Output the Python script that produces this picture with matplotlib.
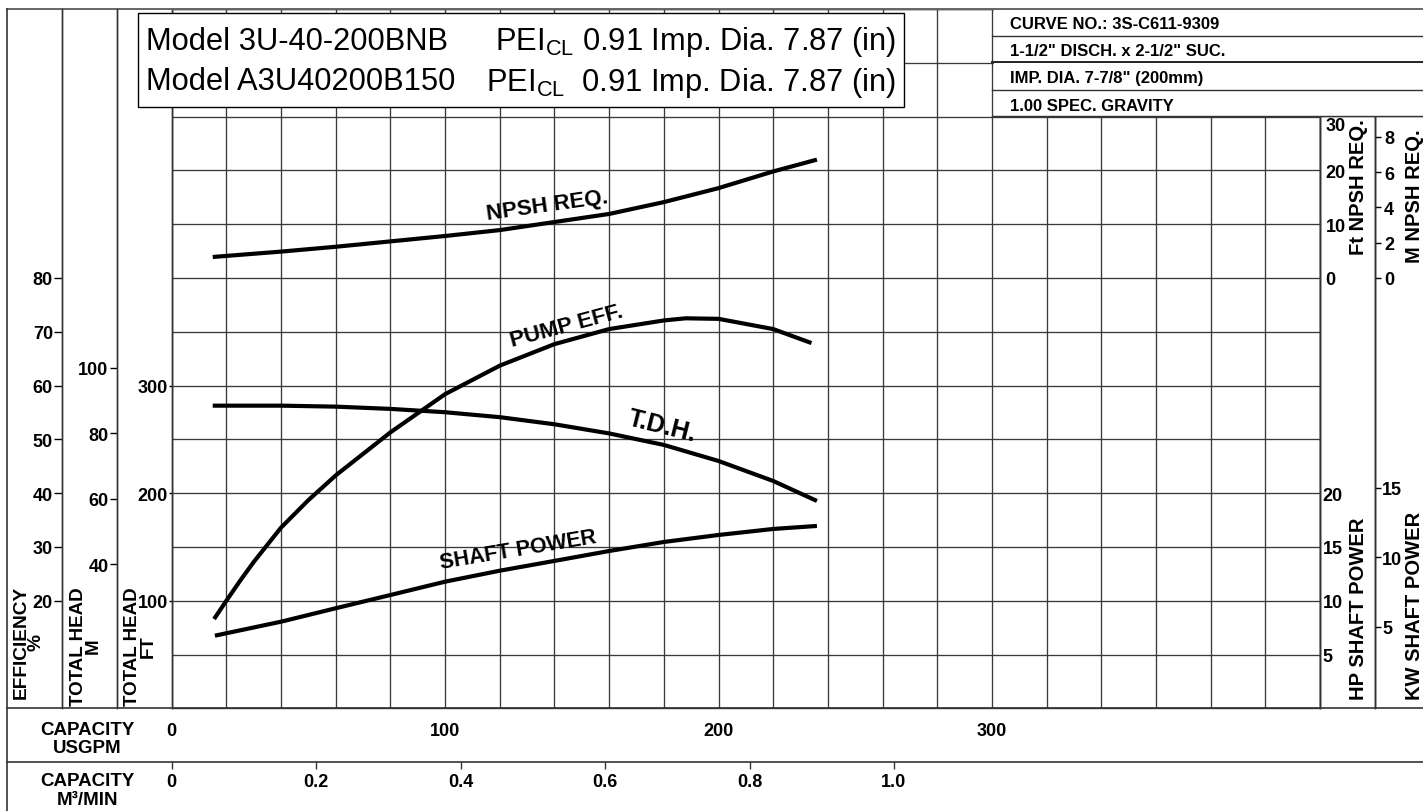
import matplotlib
matplotlib.use('Agg')
import matplotlib.pyplot as plt
from matplotlib.lines import Line2D
from matplotlib.patches import Rectangle
import numpy as np

plt.rcParams['font.family'] = ['Liberation Sans', 'DejaVu Sans']
plt.rcParams['mathtext.fontset'] = 'custom'
plt.rcParams['mathtext.rm'] = 'Liberation Sans'
plt.rcParams['mathtext.it'] = 'Liberation Sans:italic'
plt.rcParams['mathtext.bf'] = 'Liberation Sans:bold'

# ---------------- data ----------------
npsh_flow = [15, 40, 60, 80, 100, 120, 140, 160, 180, 200, 220, 236]
npsh_ft = [3.9, 4.9, 5.8, 6.8, 7.8, 8.9, 10.4, 11.9, 14.1, 16.7, 19.8, 22.0]

eff_flow = [15.5, 20, 25, 30, 40, 50, 60, 80, 100, 120, 140, 160, 180, 188, 200, 220, 234]
eff_pct = [16.6, 20.0, 23.7, 27.2, 33.6, 38.7, 43.3, 51.3, 58.4, 63.7, 67.7, 70.5, 72.1, 72.5, 72.4, 70.5, 67.9]

tdh_flow = [15, 40, 60, 80, 100, 120, 140, 160, 180, 200, 220, 236]
tdh_ft = [281.3, 281.3, 280.4, 278.3, 275.2, 270.6, 264.0, 255.5, 244.8, 229.9, 211.3, 192.7]

hp_flow = [15.8, 40, 60, 80, 100, 120, 140, 160, 180, 200, 220, 236]
shaft_hp = [6.75, 8.05, 9.3, 10.53, 11.77, 12.79, 13.7, 14.62, 15.46, 16.11, 16.67, 16.95]

gpm_ticks = [0, 100, 200, 300]
m3_ticks = [0, 0.2, 0.4, 0.6, 0.8, 1.0]
m3_labels = ['0', '0.2', '0.4', '0.6', '0.8', '1.0']
eff_ticks = [20, 30, 40, 50, 60, 70, 80]
headm_ticks = [40, 60, 80, 100]
headft_ticks = [100, 200, 300]
npshft_ticks = [0, 10, 20, 30]
npshm_ticks = [0, 2, 4, 6, 8]
hp_ticks = [5, 10, 15, 20]
kw_ticks = [5, 10, 15]

title_left = ["Model 3U-40-200BNB", "Model A3U40200B150"]
title_right = [r"PEI$_{\mathrm{CL}}$ 0.91 Imp. Dia. 7.87 (in)",
               r"PEI$_{\mathrm{CL}}$  0.91 Imp. Dia. 7.87 (in)"]
info_lines = ['CURVE NO.: 3S-C611-9309', '1-1/2" DISCH. x 2-1/2" SUC.',
              'IMP. DIA. 7-7/8" (200mm)', '1.00 SPEC. GRAVITY']

GPM_TO_M3MIN = 0.003785411784

# ---------------- layout ----------------
W, H = 1423, 812
fig = plt.figure(figsize=(W / 100, H / 100), dpi=100)


def fx(x):
    return x / W


def fy(y):
    return 1 - y / H


def hline(y, x0, x1, lw=1.0, color='#333333', z=5):
    fig.add_artist(Line2D([fx(x0), fx(x1)], [fy(y), fy(y)], transform=fig.transFigure,
                          lw=lw, color=color, zorder=z))


def vline(x, y0, y1, lw=1.0, color='#333333', z=5):
    fig.add_artist(Line2D([fx(x), fx(x)], [fy(y0), fy(y1)], transform=fig.transFigure,
                          lw=lw, color=color, zorder=z))


X0, X1 = 171.7, 1320.0
YB, YT = 709.3, 10.0
ax = fig.add_axes([fx(X0), fy(YB), (X1 - X0) / W, (YB - YT) / H])
ax.set_xlim(0, 420)
ax.set_ylim(0, 130)
ax.set_xticks(gpm_ticks)
ax.set_xticklabels([str(t) for t in gpm_ticks], fontsize=13, fontweight='bold')
ax.set_xticks(np.arange(0, 421, 20), minor=True)
ax.set_yticks(np.arange(0, 131, 10))
ax.tick_params(axis='x', which='both', length=0, pad=10)
ax.tick_params(axis='y', which='both', length=0, labelleft=False)
ax.grid(True, which='both', color='#3a3a3a', lw=0.95)
for s in ax.spines.values():
    s.set_color('#333333')
    s.set_linewidth(1.0)
ax.set_axisbelow(True)


def frac_x(px):
    return (px - X0) / (X1 - X0)


def side_axis(ylim, side, pos, ticks, labels, length, pad, direction='out'):
    a = ax.twinx()
    a.set_ylim(*ylim)
    for s in a.spines.values():
        s.set_visible(False)
    a.yaxis.set_ticks_position(side)
    a.spines[side].set_position(('axes', pos))
    a.spines[side].set_visible(True)
    a.spines[side].set_color('#333333')
    a.spines[side].set_linewidth(1.0)
    a.set_yticks(ticks)
    a.set_yticklabels(labels, fontsize=13, fontweight='bold')
    a.tick_params(axis='y', length=length, width=1.0, pad=pad, direction=direction,
                  left=(side == 'left'), right=(side == 'right'),
                  labelleft=(side == 'left'), labelright=(side == 'right'))
    a.set_xlim(0, 420)
    return a


# efficiency axis (main units = %)
ax_eff = side_axis((0, 130), 'left', frac_x(62), eff_ticks, [str(t) for t in eff_ticks], 5.5, 1.0)
# total head in metres (scale as printed on the chart)
m_slope, m_off = 0.609, 2.44
ax_hm = side_axis(((0 - m_off) / m_slope, (130 - m_off) / m_slope), 'left', frac_x(117),
                  headm_ticks, [str(t) for t in headm_ticks], 5.0, 1.2)
# total head in feet
ax_ft = side_axis((0, 650), 'left', 0.0, headft_ticks, [str(t) for t in headft_ticks], 2.5, 0.2)
# NPSH ft (right)
ax_nft = side_axis((-80, 50), 'right', 1.0, npshft_ticks, [str(t) for t in npshft_ticks], 0, 4)
# NPSH m (right outer)
ax_nm = side_axis((-80 / 3.281, 50 / 3.281), 'right', frac_x(1375), npshm_ticks,
                  [str(t) for t in npshm_ticks], 4.5, 2)
# HP (right)
ax_hp = side_axis((0, 65), 'right', 1.0, hp_ticks, [str(t) for t in hp_ticks], 0, 2)
# KW (right outer, scale as printed)
ax_kw = side_axis((-0.85, 49.45), 'right', frac_x(1375), kw_ticks, [str(t) for t in kw_ticks], 4.5, 0.5)

for lab in ax_nft.get_yticklabels():
    if lab.get_text() == '30':
        lab.set_va('top')

# curves
curve_kw = dict(color='black', lw=3.0, solid_capstyle='butt', solid_joinstyle='round', zorder=4)
ax_nft.plot(npsh_flow, npsh_ft, **curve_kw)
ax.plot(eff_flow, eff_pct, **curve_kw)
ax_ft.plot(tdh_flow, tdh_ft, **curve_kw)
ax_hp.plot(hp_flow, shaft_hp, **curve_kw)

# curve labels
lab_kw = dict(fontweight='bold', ha='center', va='center', zorder=6)
ax.text(137.3, 93.6, 'NPSH REQ.', rotation=8, fontsize=16, **lab_kw)
ax.text(144.6, 71.2, 'PUMP EFF.', rotation=15, fontsize=16, **lab_kw)
ax.text(179.5, 52.6, 'T.D.H.', rotation=-14, fontsize=18, **lab_kw)
ax.text(126.7, 29.6, 'SHAFT POWER', rotation=9.5, fontsize=15.5, **lab_kw)

# M3/min secondary axis row
sec = ax.secondary_xaxis((709.3 - 763) / (YB - YT),
                         functions=(lambda g: g * GPM_TO_M3MIN, lambda m: m / GPM_TO_M3MIN))
sec.set_xticks(m3_ticks)
sec.set_xticklabels(m3_labels, fontsize=13, fontweight='bold')
sec.tick_params(axis='x', length=5, width=1.0, pad=3, direction='out', colors='#333333', labelcolor='black')
sec.spines['bottom'].set_visible(False)

# ---------------- frame lines ----------------
hline(10, 7, 1423, lw=1.4, color='#666666')
vline(7, 10, 812, lw=1.2)
vline(62, 10, 709.3)
vline(117, 10, 709.3)
vline(1375, 117, 709.3)
hline(709.3, 7, 1423, lw=1.2)
hline(763, 7, 1423, lw=1.2)
hline(117.3, 1320, 1423)

# title box
fig.add_artist(Rectangle((fx(138), fy(108)), fx(904) - fx(138), fy(14) - fy(108),
                         transform=fig.transFigure, facecolor='white', edgecolor='black',
                         lw=1.0, zorder=6))
for i, yb in enumerate([50, 90.5]):
    fig.text(fx(146), fy(yb), title_left[i], fontsize=22.2, ha='left', va='baseline', zorder=7)
    fig.text(fx(896), fy(yb), title_right[i], fontsize=22.2, ha='right', va='baseline', zorder=7)

# info box
fig.add_artist(Rectangle((fx(994), fy(116.5)), fx(1423) - fx(994), fy(11) - fy(116.5),
                         transform=fig.transFigure, facecolor='white', edgecolor='none', zorder=6))
hline(37.3, 992, 1423, lw=1.0, z=7)
hline(63.3, 992, 1423, lw=1.4, color='#222222', z=7)
hline(91, 992, 1423, lw=1.0, z=7)
hline(117.3, 992, 1423, lw=1.0, z=7)
for txt, yb in zip(info_lines, [29.3, 56.5, 83.5, 111]):
    fig.text(fx(1010), fy(yb), txt, fontsize=12, fontweight='bold', ha='left', va='baseline', zorder=8)

# axis titles
rot_kw = dict(fontweight='bold', rotation=90, ha='center', va='bottom',
              multialignment='center', linespacing=0.88)
fig.text(fx(28.5), fy(699), 'EFFICIENCY\n%', fontsize=13.8, **rot_kw)
fig.text(fx(86), fy(706), 'TOTAL HEAD\nM', fontsize=13.5, **rot_kw)
fig.text(fx(140.5), fy(706), 'TOTAL HEAD\nFT', fontsize=13.5, **rot_kw)
fig.text(fx(1359), fy(255), 'Ft NPSH REQ.', fontsize=14.5, **rot_kw)
fig.text(fx(1415), fy(263), 'M NPSH REQ.', fontsize=14.5, **rot_kw)
fig.text(fx(1359), fy(700), 'HP SHAFT POWER', fontsize=14.5, **rot_kw)
fig.text(fx(1415), fy(700), 'KW SHAFT POWER', fontsize=14.5, **rot_kw)

fig.text(fx(87), fy(739.5), 'CAPACITY\nUSGPM', fontsize=13.5, fontweight='bold', ha='center', va='center',
         multialignment='center', linespacing=1.08)
fig.text(fx(87), fy(791), 'CAPACITY\nM³/MIN', fontsize=13.5, fontweight='bold', ha='center', va='center',
         multialignment='center', linespacing=1.08)

fig.savefig('out.png', dpi=100, facecolor='white')
